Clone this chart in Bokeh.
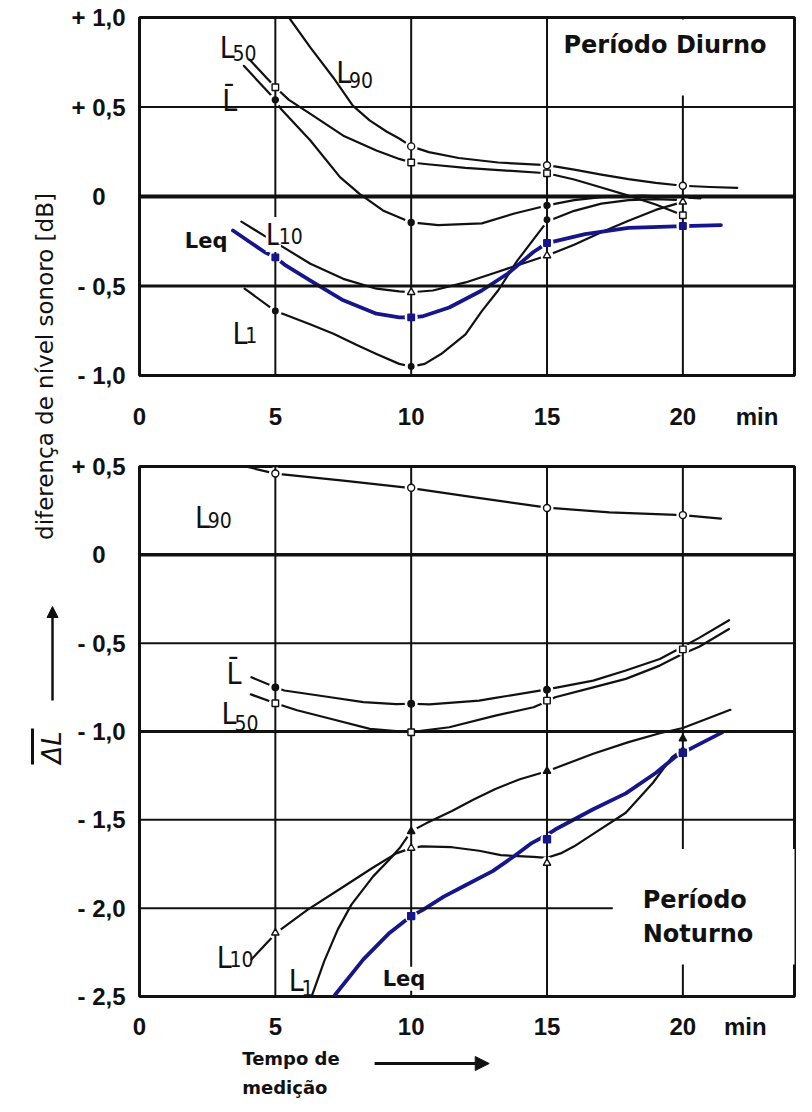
import math
from bokeh.plotting import figure
from bokeh.models import FixedTicker, Label, Arrow, NormalHead
from bokeh.layouts import row, column
from bokeh.embed import file_html
from bokeh.resources import INLINE

# ---------------- data ----------------
x_ticks = [0, 5, 10, 15, 20]
x_tick_labels = ["0", "5", "10", "15", "20"]
x_unit = "min"

d_y_ticks = [1.0, 0.5, 0.0, -0.5, -1.0]
d_y_labels = ["+ 1,0", "+ 0,5", "0\u2008\u2007", "- 0,5", "- 1,0"]
n_y_ticks = [0.5, 0.0, -0.5, -1.0, -1.5, -2.0, -2.5]
n_y_labels = ["+ 0,5", "0\u2008\u2007", "- 0,5", "- 1,0", "- 1,5", "- 2,0", "- 2,5"]

grid_x = [5, 10, 15, 20]
d_grid_y = [0.5, 0.0, -0.5]
n_grid_y = [0.0, -0.5, -1.0, -1.5, -2.0]

# Período Diurno
d_L90_x = [5.5, 6.3, 7.13, 7.85, 8.47, 9.09, 9.56, 10.0, 10.65, 11.75, 13.2, 15.0, 16.0, 17.0, 18.0, 19.0, 20.0, 21.0, 22.0]
d_L90_y = [1.0, 0.83, 0.665, 0.508, 0.425, 0.363, 0.324, 0.28, 0.248, 0.215, 0.19, 0.175, 0.15, 0.122, 0.097, 0.076, 0.06, 0.053, 0.048]
d_L90_mx = [10, 15, 20]
d_L90_my = [0.28, 0.175, 0.06]

d_L50_x = [4.05, 5.0, 5.5, 6.29, 7.5, 8.72, 9.56, 10.0, 10.6, 12.0, 13.5, 15.0, 16.0, 17.0, 18.0, 19.0, 20.0]
d_L50_y = [0.765, 0.61, 0.54, 0.462, 0.34, 0.257, 0.21, 0.19, 0.18, 0.16, 0.145, 0.13, 0.095, 0.05, 0.005, -0.045, -0.105]
d_L50_mx = [5, 10, 15, 20]
d_L50_my = [0.61, 0.19, 0.13, -0.105]

d_Lbar_x = [3.84, 5.0, 5.2, 6.29, 7.38, 8.1, 8.96, 10.0, 11.0, 12.6, 13.8, 15.0, 16.0, 17.0, 18.5, 20.0, 20.65]
d_Lbar_y = [0.73, 0.54, 0.49, 0.313, 0.108, 0.015, -0.078, -0.145, -0.16, -0.15, -0.095, -0.05, -0.02, -0.003, 0.005, -0.005, -0.01]
d_Lbar_mx = [5, 10, 15]
d_Lbar_my = [0.54, -0.145, -0.05]

d_L10_x = [3.75, 4.6, 5.0, 5.26, 6.29, 7.5, 8.72, 9.56, 10.0, 10.8, 12.0, 13.2, 14.2, 15.0, 16.0, 17.0, 18.0, 19.0, 20.0]
d_L10_y = [-0.14, -0.22, -0.255, -0.28, -0.376, -0.46, -0.515, -0.53, -0.535, -0.525, -0.48, -0.42, -0.37, -0.33, -0.27, -0.2, -0.135, -0.075, -0.03]
d_L10_mx = [5, 10, 15, 20]
d_L10_my = [-0.255, -0.535, -0.33, -0.03]

d_L1_x = [3.87, 5.0, 5.44, 6.3, 7.14, 8.0, 8.72, 9.56, 10.0, 10.5, 11.1, 12.0, 12.6, 13.2, 13.9, 14.65, 15.0, 16.0, 17.0, 18.0, 19.0, 20.0]
d_L1_y = [-0.515, -0.64, -0.665, -0.715, -0.767, -0.83, -0.88, -0.935, -0.95, -0.935, -0.88, -0.77, -0.64, -0.525, -0.36, -0.21, -0.14, -0.08, -0.04, -0.02, -0.015, -0.02]
d_L1_mx = [5, 10, 15]
d_L1_my = [-0.64, -0.95, -0.13]

d_Leq_x = [3.44, 4.6, 5.0, 5.38, 6.29, 7.5, 8.72, 9.56, 10.0, 10.4, 11.4, 12.6, 13.56, 14.5, 15.0, 16.4, 18.0, 20.0, 21.4]
d_Leq_y = [-0.19, -0.31, -0.34, -0.385, -0.47, -0.58, -0.655, -0.675, -0.675, -0.67, -0.62, -0.525, -0.43, -0.31, -0.26, -0.21, -0.175, -0.165, -0.16]
d_Leq_mx = [5, 10, 15, 20]
d_Leq_my = [-0.34, -0.675, -0.26, -0.165]

# Período Noturno
n_L90_x = [3.9, 5.0, 7.5, 10.0, 12.4, 15.0, 17.3, 20.0, 21.4]
n_L90_y = [0.50, 0.46, 0.42, 0.378, 0.324, 0.267, 0.24, 0.225, 0.205]
n_L90_mx = [5, 10, 15, 20]
n_L90_my = [0.46, 0.38, 0.265, 0.225]

n_Lbar_x = [4.12, 5.0, 5.33, 7.03, 8.24, 9.45, 10.0, 10.67, 12.5, 13.1, 14.9, 15.3, 16.7, 17.9, 19.15, 20.0, 20.6, 21.7]
n_Lbar_y = [-0.693, -0.75, -0.768, -0.806, -0.834, -0.845, -0.843, -0.847, -0.825, -0.81, -0.764, -0.753, -0.712, -0.655, -0.59, -0.52, -0.47, -0.37]
n_Lbar_mx = [5, 10, 15]
n_Lbar_my = [-0.75, -0.843, -0.764]

n_L50_x = [4.1, 5.0, 5.8, 7.03, 8.48, 9.45, 10.0, 11.4, 13.1, 14.5, 15.0, 15.3, 16.7, 17.9, 19.15, 20.0, 20.6, 21.7]
n_L50_y = [-0.79, -0.84, -0.88, -0.928, -0.985, -0.998, -1.004, -0.976, -0.91, -0.863, -0.83, -0.806, -0.75, -0.702, -0.627, -0.56, -0.52, -0.42]
n_L50_mx = [5, 10, 15, 20]
n_L50_my = [-0.84, -1.004, -0.825, -0.535]

n_L10_x = [4.12, 5.03, 6.18, 7.39, 8.6, 9.45, 10.0, 10.4, 11.5, 12.5, 13.3, 14.5, 15.0, 15.5, 16.0, 16.9, 17.9, 18.9, 19.6, 20.0]
n_L10_y = [-2.29, -2.14, -2.01, -1.89, -1.77, -1.69, -1.66, -1.65, -1.655, -1.675, -1.70, -1.71, -1.715, -1.69, -1.65, -1.56, -1.46, -1.29, -1.145, -1.1]
n_L10_mx = [5, 10, 15, 20]
n_L10_my = [-2.14, -1.66, -1.745, -1.11]

n_L1_x = [6.36, 6.8, 7.3, 7.8, 8.6, 9.2, 9.6, 10.0, 10.55, 11.5, 12.3, 13.1, 14.0, 15.0, 16.7, 18.0, 19.15, 20.0, 21.75]
n_L1_y = [-2.49, -2.3, -2.12, -1.98, -1.82, -1.725, -1.655, -1.565, -1.52, -1.45, -1.385, -1.325, -1.27, -1.225, -1.126, -1.06, -1.01, -0.98, -0.877]
n_L1_mx = [10, 15, 20]
n_L1_my = [-1.565, -1.225, -1.04]

n_Leq_x = [7.2, 8.24, 9.2, 10.0, 10.43, 11.2, 12.0, 13.0, 13.8, 14.4, 15.0, 15.3, 16.7, 17.9, 19.0, 19.75, 20.0, 20.5, 21.45]
n_Leq_y = [-2.49, -2.29, -2.14, -2.045, -2.01, -1.935, -1.87, -1.79, -1.705, -1.635, -1.585, -1.555, -1.44, -1.35, -1.235, -1.14, -1.12, -1.08, -1.005]
n_Leq_mx = [10, 15, 20]
n_Leq_my = [-2.045, -1.61, -1.12]

# ---------------- styles ----------------
BLACK = "#111111"
BLUE = "#15158c"
FONT_TICK = "Liberation Sans"
FONT_BOLD = "DejaVu Sans"
FONT_NARROW = "'Liberation Sans Narrow', 'DejaVu Sans Condensed', 'Arial Narrow', sans-serif"
HALO = 13

LINE_STYLE = {"L90": (BLACK, 2.2), "L50": (BLACK, 2.2), "Lbar": (BLACK, 2.2),
              "L10": (BLACK, 2.2), "L1": (BLACK, 2.2), "Leq": (BLUE, 3.8)}
D_MARK = {"L90": ("circle", "white", BLACK, 7), "L50": ("square", "white", BLACK, 6.5),
          "Lbar": ("circle", BLACK, BLACK, 6), "L10": ("triangle", "white", BLACK, 7.5),
          "L1": ("circle", BLACK, BLACK, 5.5), "Leq": ("square", BLUE, BLUE, 6.5)}
N_MARK = {"L90": ("circle", "white", BLACK, 7), "L50": ("square", "white", BLACK, 6.5),
          "Lbar": ("circle", BLACK, BLACK, 6.5), "L10": ("triangle", "white", BLACK, 7.5),
          "L1": ("triangle", BLACK, BLACK, 7.5), "Leq": ("square", BLUE, BLUE, 7)}

d_series = {"L90": (d_L90_x, d_L90_y, d_L90_mx, d_L90_my),
            "L50": (d_L50_x, d_L50_y, d_L50_mx, d_L50_my),
            "Lbar": (d_Lbar_x, d_Lbar_y, d_Lbar_mx, d_Lbar_my),
            "L10": (d_L10_x, d_L10_y, d_L10_mx, d_L10_my),
            "L1": (d_L1_x, d_L1_y, d_L1_mx, d_L1_my),
            "Leq": (d_Leq_x, d_Leq_y, d_Leq_mx, d_Leq_my)}
n_series = {"L90": (n_L90_x, n_L90_y, n_L90_mx, n_L90_my),
            "Lbar": (n_Lbar_x, n_Lbar_y, n_Lbar_mx, n_Lbar_my),
            "L50": (n_L50_x, n_L50_y, n_L50_mx, n_L50_my),
            "L10": (n_L10_x, n_L10_y, n_L10_mx, n_L10_my),
            "L1": (n_L1_x, n_L1_y, n_L1_mx, n_L1_my),
            "Leq": (n_Leq_x, n_Leq_y, n_Leq_mx, n_Leq_my)}

PXX = 27.5   # pixels per minute
STRIP_W = 68
MAIN_W = 728
TOTAL_H = 1104
B_LEFT = 63
B_RIGHT = 2
FRAME_W = MAIN_W - B_LEFT - B_RIGHT


def make_panel(height, b_top, b_bottom, y_range, y_ticks, y_labels, x_standoff, unit_pos):
    xmax = FRAME_W / PXX
    p = figure(width=MAIN_W, height=height, x_range=(0, xmax), y_range=y_range,
               toolbar_location=None, output_backend="svg",
               min_border_left=B_LEFT, min_border_right=B_RIGHT,
               min_border_top=b_top, min_border_bottom=b_bottom)
    p.grid.visible = False
    p.outline_line_color = BLACK
    p.outline_line_width = 3
    p.background_fill_color = "white"
    p.border_fill_color = "white"
    xa = p.xaxis[0]
    ya = p.yaxis[0]
    xa.ticker = FixedTicker(ticks=x_ticks + [unit_pos])
    ov = {t: l for t, l in zip(x_ticks, x_tick_labels)}
    ov[unit_pos] = x_unit
    xa.major_label_overrides = ov
    xa.major_label_standoff = x_standoff
    ya.ticker = FixedTicker(ticks=y_ticks)
    ya.major_label_overrides = {t: l for t, l in zip(y_ticks, y_labels)}
    ya.major_label_standoff = 8
    for ax in (xa, ya):
        ax.axis_line_color = None
        ax.major_tick_line_color = None
        ax.minor_tick_line_color = None
        ax.major_label_text_font = FONT_TICK
        ax.major_label_text_font_style = "bold"
        ax.major_label_text_font_size = "24px"
        ax.major_label_text_color = BLACK
    return p, xmax


def draw(p, series, mstyle, ymin, ymax, xmax, grid_y, grid_w):
    for name, (xs, ys, mx, my) in series.items():
        c, w = LINE_STYLE[name]
        p.line(xs, ys, line_color=c, line_width=w, line_join="round", line_cap="round")
    for name, (xs, ys, mx, my) in series.items():
        p.scatter(mx, my, size=HALO, fill_color="white", line_color=None)
    n = len(grid_x)
    p.segment(x0=grid_x, y0=[ymin] * n, x1=grid_x, y1=[ymax] * n, line_color=BLACK, line_width=2)
    m = len(grid_y)
    p.segment(x0=[0] * m, y0=grid_y, x1=[xmax] * m, y1=grid_y, line_color=BLACK, line_width=grid_w)
    for name, (xs, ys, mx, my) in series.items():
        mk, fc, lc, sz = mstyle[name]
        p.scatter(mx, my, marker=mk, size=sz, fill_color=fc, line_color=lc, line_width=1.4)


def lab(p, x, y, text, size, font=FONT_NARROW, style="normal", bg=False, **kw):
    l = Label(x=x, y=y, text=text, text_font=font, text_font_size=f"{size}px",
              text_font_style=style, text_color=BLACK, text_align="left",
              text_baseline="alphabetic", **kw)
    if bg:
        l.background_fill_color = "white"
    p.add_layout(l)


def cname(p, x, y, sub, dyy, bg=False):
    # "L" with subscript, in the narrow lettering of the original
    lab(p, x, y, "L", 30, bg=bg)
    if sub:
        lab(p, x + 13 / PXX, y - dyy, sub, 21, bg=bg)


def lbar(p, x, y, pxy):
    lab(p, x, y, "L", 30)
    lab(p, x, y + 5 / pxy, "\u00af", 30)


# ---------------- top panel: Período Diurno ----------------
top, top_xmax = make_panel(437, 17, 62, (-1.0, 1.0), d_y_ticks, d_y_labels, 21, 22.73)
draw(top, d_series, D_MARK, -1.0, 1.0, top_xmax, d_grid_y, [2, 4, 3])
PYT = 179.0
cname(top, 2.95, 0.832, "50", 5 / PYT)
lbar(top, 3.05, 0.536, PYT)
cname(top, 7.24, 0.693, "90", 8 / PYT)
cname(top, 4.65, -0.212, "10", 2 / PYT, bg=True)
cname(top, 3.42, -0.765, "1", 2 / PYT)
lab(top, 1.67, -0.246, "Leq", 21, font=FONT_BOLD, style="bold")
top.add_layout(Label(x=15.31, y=0.989, text="Período Diurno", text_font=FONT_BOLD,
                     text_font_size="24px", text_font_style="bold", text_color=BLACK,
                     text_align="left", text_baseline="top",
                     background_fill_color="white",
                     padding=dict(left=8, right=14, top=12, bottom=36)))

# ---------------- bottom panel: Período Noturno ----------------
bot, bot_xmax = make_panel(605, 29, 44, (-2.5, 0.5), n_y_ticks, n_y_labels, 10, 22.3)
draw(bot, n_series, N_MARK, -2.5, 0.5, bot_xmax, n_grid_y, [3.5, 2, 3, 2, 2])
PYB = 177.3
cname(bot, 2.04, 0.209, "90", 2 / PYB)
lbar(bot, 3.2, -0.672, PYB)
cname(bot, 3.02, -0.898, "50", 10 / PYB)
cname(bot, 2.84, -2.277, "10", 2 / PYB)
cname(bot, 5.49, -2.407, "1", 8 / PYB)
lab(bot, 8.95, -2.40, "Leq", 21, font=FONT_BOLD, style="bold", bg=True)
bot.add_layout(Label(x=17.42, y=-1.665, text="Período\nNoturno", text_font=FONT_BOLD,
                     text_font_size="24px", text_font_style="bold", text_color=BLACK,
                     text_align="left", text_baseline="top",
                     background_fill_color="white",
                     padding=dict(left=30, right=42, top=37, bottom=17)))

# ---------------- foot: time-axis caption and arrow ----------------
foot = figure(width=MAIN_W, height=62, x_range=(0, FRAME_W), y_range=(0, 62),
              toolbar_location=None, output_backend="svg",
              min_border_left=B_LEFT, min_border_right=B_RIGHT,
              min_border_top=0, min_border_bottom=0,
              x_axis_location=None, y_axis_location=None)
foot.grid.visible = False
foot.outline_line_color = None
foot.background_fill_color = "white"
foot.border_fill_color = "white"
foot.add_layout(Label(x=104, y=57, text="Tempo de\nmedição", text_font=FONT_BOLD,
                      text_font_size="18px", text_font_style="bold", text_color=BLACK,
                      text_align="left", text_baseline="top", text_line_height=1.4))
foot.add_layout(Arrow(x_start=238, y_start=41, x_end=354, y_end=41, line_width=3,
                      line_color=BLACK,
                      end=NormalHead(size=14, fill_color=BLACK, line_color=BLACK)))

# ---------------- left strip with the axis title ----------------
strip = figure(width=STRIP_W, height=TOTAL_H, x_range=(0, STRIP_W), y_range=(0, TOTAL_H),
               toolbar_location=None, output_backend="svg", min_border=0,
               x_axis_location=None, y_axis_location=None)
strip.grid.visible = False
strip.outline_line_color = None
strip.background_fill_color = "white"
strip.border_fill_color = "white"
strip.add_layout(Label(x=44, y=TOTAL_H - 366, text="diferença de nível sonoro [dB]", angle=math.pi / 2,
                       text_font="DejaVu Sans", text_font_size="23px", text_color=BLACK,
                       text_align="center", text_baseline="middle"))
strip.add_layout(Arrow(x_start=52, y_start=TOTAL_H - 700, x_end=52, y_end=TOTAL_H - 606, line_width=2.5,
                       line_color=BLACK,
                       end=NormalHead(size=11, fill_color=BLACK, line_color=BLACK)))
strip.add_layout(Label(x=51, y=TOTAL_H - 747, text="ΔL", angle=math.pi / 2,
                       text_font="DejaVu Sans", text_font_size="26px", text_font_style="italic",
                       text_color=BLACK, text_align="center", text_baseline="middle"))
strip.line([32, 32], [TOTAL_H - 728, TOTAL_H - 764], line_color=BLACK, line_width=3)

layout = row(strip, column(top, bot, foot))
open("out.html", "w").write(file_html(layout, INLINE))
